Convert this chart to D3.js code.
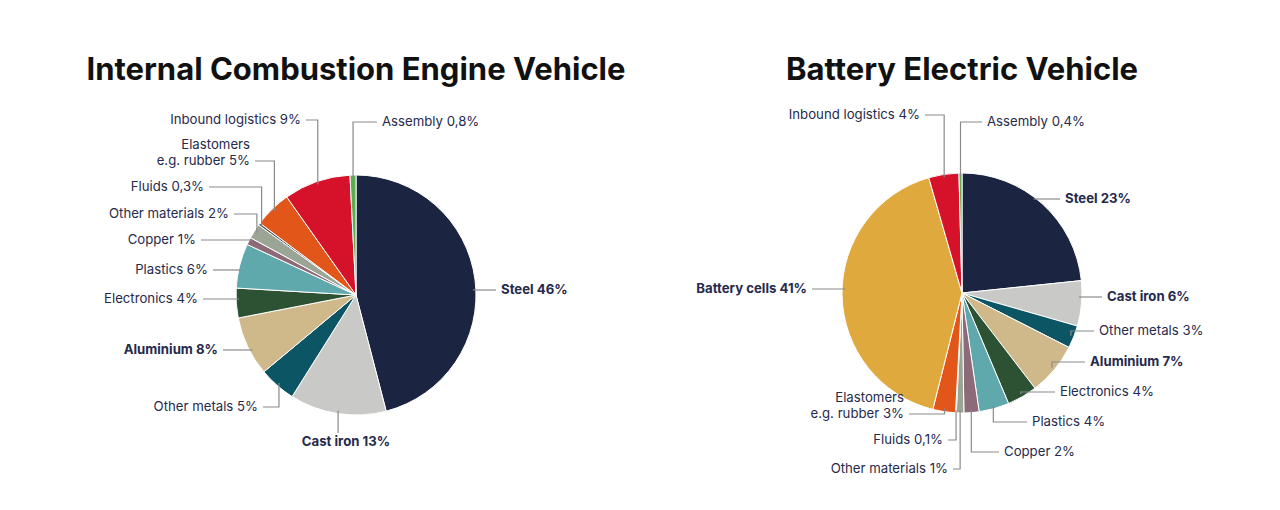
<!DOCTYPE html>
<html><head><meta charset="utf-8">
<script src="https://cdn.jsdelivr.net/npm/d3@7"></script>
<style>body{margin:0;background:#fff}text{font-family:Inter,"Open Sans",sans-serif}</style>
</head><body><svg id="c" width="1280" height="510"></svg>
<script>
const categoriesICE = ["Steel","Cast iron","Other metals","Aluminium","Electronics","Plastics","Copper","Other materials","Fluids","Elastomers e.g. rubber","Inbound logistics","Assembly"];
const valuesICE = [46,13,5,8,4,6,1,2,0.3,5,9,0.8];
const labelsICE = ["Steel 46%","Cast iron 13%","Other metals 5%","Aluminium 8%","Electronics 4%","Plastics 6%","Copper 1%","Other materials 2%","Fluids 0,3%","Elastomers|e.g. rubber 5%","Inbound logistics 9%","Assembly 0,8%"];
const categoriesBEV = ["Steel","Cast iron","Other metals","Aluminium","Electronics","Plastics","Copper","Other materials","Fluids","Elastomers e.g. rubber","Battery cells","Inbound logistics","Assembly"];
const valuesBEV = [23,6,3,7,4,4,2,1,0.1,3,41,4,0.4];
const labelsBEV = ["Steel 23%","Cast iron 6%","Other metals 3%","Aluminium 7%","Electronics 4%","Plastics 4%","Copper 2%","Other materials 1%","Fluids 0,1%","Elastomers|e.g. rubber 3%","Battery cells 41%","Inbound logistics 4%","Assembly 0,4%"];
const boldSet = new Set(["Steel","Cast iron","Aluminium","Battery cells"]);
const colorMap = {"Steel":"#1b2440","Cast iron":"#c9c9c7","Other metals":"#0c5565","Aluminium":"#cfb98a","Electronics":"#2c5133","Plastics":"#5fa8ac","Copper":"#8c6a77","Other materials":"#9ba595","Fluids":"#4a4f5a","Elastomers e.g. rubber":"#e2561a","Inbound logistics":"#d6122a","Assembly":"#5aae4f","Battery cells":"#e0a93d"};

// label layout: [x, y, anchor, mode]
const layoutICE = [[501,294,"start","h"],[346,446,"middle","v"],[258,411,"end","e"],[218,354,"end","h"],[198,303,"end","h"],[208,274,"end","h"],[196,244,"end","h"],[229,218,"end","e"],[204,191,"end","e"],[250,165,"end","e"],[301,124,"end","e"],[382,126,"start","e"]];
const layoutBEV = [[1065,203,"start","h"],[1107,301,"start","h"],[1099,335,"start","e"],[1090,366,"start","e"],[1060,396,"start","e"],[1032,426,"start","e"],[1004,456,"start","e"],[948,473,"end","e"],[943,444,"end","e"],[904,418,"end","e"],[807,293,"end","h"],[920,119,"end","e"],[987,126,"start","e"]];

const svg = d3.select("#c");
function drawPie(title, cats, vals, labels, layout, cx, cy, r){
  svg.append("text").attr("x",cx).attr("y",80).attr("text-anchor","middle")
    .attr("font-size",31).attr("font-weight",700).attr("fill","#111").text(title);
  const data = cats.map((c,i)=>({c,v:vals[i],l:labels[i],lay:layout[i]}));
  const arcs = d3.pie().sort(null).value(d=>d.v)(data);
  const arc = d3.arc().innerRadius(0).outerRadius(r);
  const g = svg.append("g").attr("transform",`translate(${cx},${cy})`);
  const lg = svg.append("g");
  arcs.forEach(a=>{
    const d=a.data, [lx,ly,anc,mode]=d.lay;
    const m=(a.startAngle+a.endAngle)/2;
    const px=cx+Math.sin(m)*(r-3), py=cy-Math.cos(m)*(r-3);
    let pts;
    const lines=d.l.split("|");
    const w=lines[lines.length-1].length*7.2;
    const tx = anc==="end"? lx+5 : anc==="start"? lx-5 : lx;
    if(mode==="h"){
      const dy=ly-4-cy; const hx=cx+(anc==="end"?-1:1)*Math.sqrt(Math.max(0,r*r-dy*dy))+(anc==="end"?3:-3);
      pts=[[tx,ly-4],[hx,ly-4]];
    } else if(mode==="v"){
      pts=[[px,ly-13],[px,py]];
    } else {
      pts=[[tx,ly-4],[px,ly-4],[px,py]];
    }
    lg.append("path").attr("d",d3.line()(pts)).attr("fill","none").attr("stroke","#8a8a8a").attr("stroke-width",1.2);
    const t=svg.append("text").attr("text-anchor",anc).attr("font-size",13.2).attr("fill","#262a4d")
      .attr("font-weight",boldSet.has(d.c)?700:400);
    lines.forEach((s,k)=>t.append("tspan").attr("x",lx).attr("y",ly-(lines.length-1-k)*16).text(s));
  });
  g.selectAll("path").data(arcs).join("path").attr("d",arc)
    .attr("fill",a=>colorMap[a.data.c]).attr("stroke","#fff").attr("stroke-width",1);
}
drawPie("Internal Combustion Engine Vehicle",categoriesICE,valuesICE,labelsICE,layoutICE,356,295,120);
drawPie("Battery Electric Vehicle",categoriesBEV,valuesBEV,labelsBEV,layoutBEV,962,293,120);
</script></body></html>
